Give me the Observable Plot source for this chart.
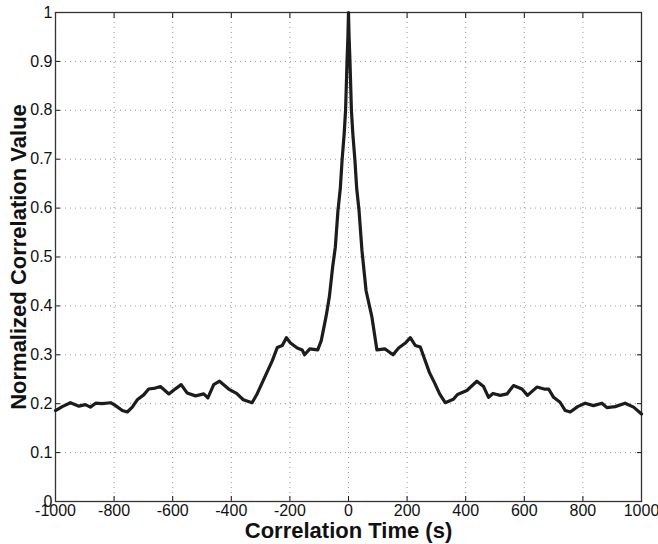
<!DOCTYPE html>
<html><head><meta charset="utf-8">
<script src="https://cdn.jsdelivr.net/npm/d3@7"></script>
<script src="https://cdn.jsdelivr.net/npm/@observablehq/plot@0.6"></script>
<style>body{margin:0;background:#fff} #chart svg{display:block}</style>
</head><body><div id="chart"></div>
<script>
const lagTimes = [
  -1000,-977,-949,-920,-898,-881,-863,-841,-812,-795,-772,-755,-738,-721,-699,-682,-659,-642,-613,-596,
  -571,-551,-522,-494,-480,-460,-440,-409,-382,-359,-329,-312,-283,-260,-243,-226,-212,-198,-175,-158,
  -150,-132,-105,-93,-76,-65,-54,-45,-36,-28,-22,-15,-10,-5,-2,0,
  2,5,10,15,22,28,36,46,60,80,97,125,152,171,194,211,228,245,276,295,311,330,358,372,404,438,461,478,
  493,518,541,563,592,611,643,668,683,700,722,740,757,782,808,836,865,882,910,944,973,1000
];
const correlationValues = [
  0.186,0.194,0.202,0.195,0.198,0.193,0.201,0.200,0.202,0.196,0.186,0.183,0.193,0.208,0.218,0.230,0.232,0.235,0.220,0.228,
  0.239,0.222,0.216,0.220,0.212,0.239,0.246,0.230,0.221,0.208,0.202,0.220,0.258,0.288,0.315,0.319,0.335,0.324,0.314,0.310,
  0.300,0.312,0.310,0.329,0.380,0.420,0.480,0.520,0.595,0.640,0.697,0.750,0.800,0.900,0.950,1.000,
  0.950,0.900,0.800,0.750,0.697,0.640,0.595,0.513,0.431,0.377,0.310,0.312,0.300,0.314,0.324,0.335,0.319,0.316,0.264,0.241,0.220,0.202,0.209,0.219,0.227,0.246,0.235,0.213,
  0.221,0.217,0.220,0.237,0.230,0.217,0.234,0.230,0.230,0.213,0.203,0.186,0.183,0.194,0.201,0.196,0.201,0.192,0.194,0.201,0.193,0.179
];
const xTicks = [-1000,-800,-600,-400,-200,0,200,400,600,800,1000];
const yTicks = [0,0.1,0.2,0.3,0.4,0.5,0.6,0.7,0.8,0.9,1];
const xLabel = "Correlation Time (s)";
const yLabel = "Normalized Correlation Value";

const data = lagTimes.map((t, i) => ({t, v: correlationValues[i]}));

const chart = Plot.plot({
  width: 658, height: 544,
  marginLeft: 55, marginRight: 17, marginTop: 12, marginBottom: 43,
  style: {fontFamily: "'Liberation Sans', Arial, sans-serif", fontSize: "16px", color: "#111", background: "#fff"},
  x: {domain: [-1000, 1000]},
  y: {domain: [0, 1]},
  marks: [
    Plot.gridX(xTicks, {stroke: "#555", strokeOpacity: 0.6, strokeDasharray: "1,4"}),
    Plot.gridY(yTicks, {stroke: "#555", strokeOpacity: 0.6, strokeDasharray: "1,4"}),
    Plot.axisX(xTicks, {anchor: "bottom", tickSize: -5, tickPadding: 8, label: null, fontSize: 16, tickFormat: d => String(d)}),
    Plot.axisX(xTicks, {anchor: "top", tickSize: -5, label: null, tickFormat: () => ""}),
    Plot.axisY(yTicks, {anchor: "left", tickSize: -5, tickPadding: 8, label: null, fontSize: 16, tickFormat: d => String(d)}),
    Plot.axisY(yTicks, {anchor: "right", tickSize: -5, label: null, tickFormat: () => ""}),
    Plot.frame({stroke: "#333", strokeWidth: 1.3}),
    Plot.line(data, {x: "t", y: "v", stroke: "#1c1c1c", strokeWidth: 3.2, strokeLinejoin: "round"}),
    Plot.text([xLabel], {frameAnchor: "bottom", dy: 29, textAnchor: "middle", lineAnchor: "middle", text: d => d, fontSize: 22, fontWeight: "bold", fill: "#111"}),
    Plot.text([yLabel], {frameAnchor: "left", dx: -37, rotate: -90, textAnchor: "middle", lineAnchor: "middle", text: d => d, fontSize: 22, fontWeight: "bold", fill: "#111"})
  ]
});
document.getElementById("chart").appendChild(chart);
</script>
</body></html>
